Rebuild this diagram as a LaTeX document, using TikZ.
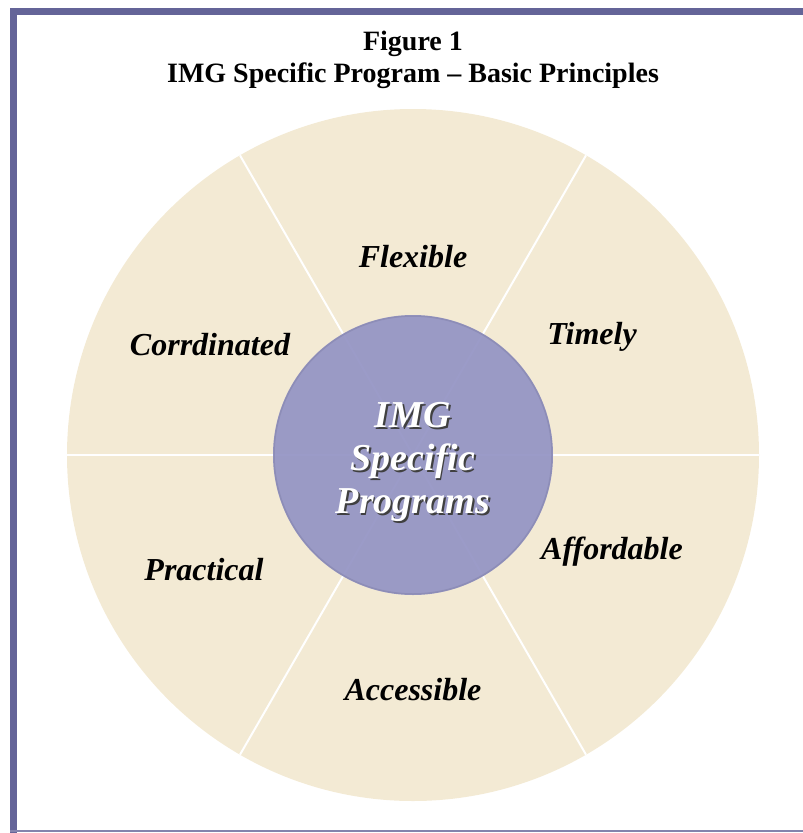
\documentclass[tikz,border=0pt]{standalone}
\usepackage{fontspec}
\setmainfont{Liberation Serif}
\usetikzlibrary{calc,positioning}
\definecolor{FrameBlue}{RGB}{100,100,152}
\definecolor{Parchment}{RGB}{243,234,212}
\definecolor{HubLilac}{RGB}{148,148,196}
\newcommand{\principle}[3]{\node[lbl] (#1) at (#2) {#3};}

\begin{document}
\begin{tikzpicture}[x=1pt,y=-1pt,
  lbl/.style={font=\fontsize{32}{38}\selectfont\bfseries\itshape,inner sep=0pt},
  hubtxt/.style={font=\fontsize{38}{43}\selectfont\bfseries\itshape,align=center,inner sep=0pt},
  ttl/.style={font=\fontsize{28}{32}\selectfont\bfseries,anchor=base,inner sep=0pt}]
\useasboundingbox (0,0) rectangle (803,833);
% frame
\fill[FrameBlue] (10,8) rectangle (803,15);
\fill[FrameBlue] (10,8) rectangle (17,833);
\fill[FrameBlue!80] (10,830) rectangle (803,832);
\node[ttl] (fig) at (413,50) {Figure 1};
\node[ttl] (sub) at (413,82) {IMG Specific Program -- Basic Principles};
% wheel
\coordinate (c) at (413,455);
\fill[Parchment] (c) circle (346);
\foreach \a in {0,60,...,300}{\draw[white,line width=2pt] (c) -- ++(\a:346);}
\fill[HubLilac,opacity=.93] (c) circle (140);
\draw[HubLilac!80!black,line width=1.5pt,opacity=.35] (c) circle (139);
\principle{flex}{413,257}{Flexible}
\principle{timely}{592,337}{Timely}
\principle{afford}{612,552}{Affordable}
\principle{access}{413,690}{Accessible}
\principle{pract}{204,570}{Practical}
\principle{coord}{210,345}{Corrdinated}
\node[hubtxt,text=black!75] at ($(c)+(1.8,8.8)$) {IMG\\Specific\\Programs};
\node[hubtxt,text=white] (hub) at ($(c)+(0,7)$) {IMG\\Specific\\Programs};
\end{tikzpicture}
\end{document}
